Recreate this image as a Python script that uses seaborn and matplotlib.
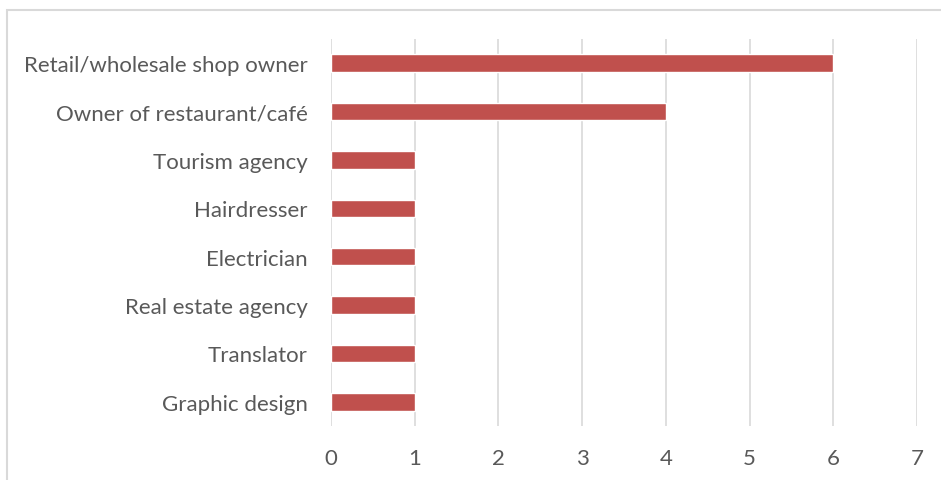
import matplotlib
matplotlib.use("Agg")
import matplotlib.pyplot as plt
import matplotlib.patches as mpatches
import seaborn as sns
import pandas as pd

categories = [
    "Retail/wholesale shop owner",
    "Owner of restaurant/café",
    "Tourism agency",
    "Hairdresser",
    "Electrician",
    "Real estate agency",
    "Translator",
    "Graphic design",
]
counts = [6, 4, 1, 1, 1, 1, 1, 1]
x_ticks = [0, 1, 2, 3, 4, 5, 6, 7]

df = pd.DataFrame({"category": categories, "count": counts})

sns.set_theme(style="white")
plt.rcParams["font.family"] = ["Lato", "DejaVu Sans"]

fig = plt.figure(figsize=(9.41, 4.81), dpi=100)
ax = fig.add_axes([331 / 941, 1 - 427 / 481, (917 - 331) / 941, (427 - 40) / 481])

sns.barplot(data=df, x="count", y="category", orient="h", color="#C0504D",
            saturation=1, width=0.36, ax=ax)

ax.set_xlim(0, 7)
ax.set_xticks(x_ticks)
ax.set_xticklabels([str(t) for t in x_ticks])
ax.set_xlabel("")
ax.set_ylabel("")
ax.xaxis.grid(True, color="#D9D9D9", linewidth=1.2)
ax.set_axisbelow(True)
for s in ax.spines.values():
    s.set_visible(False)
ax.tick_params(axis="both", length=0, colors="#595959", labelsize=16)
ax.tick_params(axis="x", pad=16)
ax.tick_params(axis="y", pad=17)

# outer frame of the chart area
frame = mpatches.Rectangle((7 / 941, -0.05), 1.0, 1 - 11 / 481 + 0.05,
                           transform=fig.transFigure, fill=False,
                           edgecolor="#D9D9D9", linewidth=1.5)
fig.patches.append(frame)

fig.savefig("out.png", dpi=100)
